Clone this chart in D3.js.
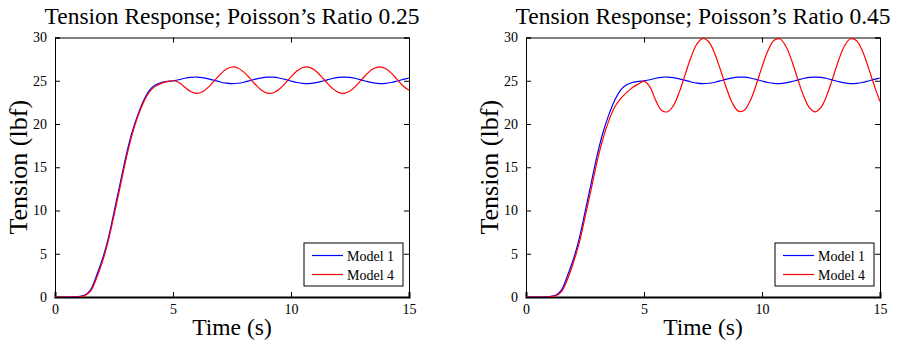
<!DOCTYPE html>
<html>
<head>
<meta charset="utf-8">
<script src="https://cdn.jsdelivr.net/npm/d3@7"></script>
<style>
  body { margin: 0; background: #fff; }
  svg text { font-family: "Liberation Serif", "Times New Roman", "DejaVu Serif", serif !important; fill: #000; }
</style>
</head>
<body>
<svg id="chart" width="897" height="343"></svg>
<script>
// time samples (s)
var time = [0, 0.25, 0.5, 0.75, 1, 1.25, 1.5, 1.75, 2, 2.25, 2.5, 2.75, 3, 3.25, 3.5, 3.75,
    4, 4.25, 4.5, 4.75, 5, 5.25, 5.5, 5.75, 6, 6.25, 6.5, 6.75, 7, 7.25, 7.5, 7.75,
    8, 8.25, 8.5, 8.75, 9, 9.25, 9.5, 9.75, 10, 10.25, 10.5, 10.75, 11, 11.25, 11.5, 11.75,
    12, 12.25, 12.5, 12.75, 13, 13.25, 13.5, 13.75, 14, 14.25, 14.5, 14.75, 15];

// Model 1 tension (lbf), same in both panels
var model1 = [0, 0, 0, 0, 0.05, 0.2, 0.8, 2.4, 4.3, 6.7, 9.8, 13.0, 16.2, 18.9, 21.0, 22.7,
    23.9, 24.5, 24.8, 24.92, 25.0, 25.12, 25.29, 25.40, 25.43, 25.36, 25.22, 25.04, 24.86, 24.73, 24.67, 24.71,
    24.83, 25.0, 25.19, 25.34, 25.42, 25.41, 25.32, 25.15, 24.97, 24.80, 24.69, 24.67, 24.75, 24.89, 25.08, 25.26,
    25.38, 25.43, 25.38, 25.26, 25.08, 24.89, 24.75, 24.67, 24.69, 24.80, 24.97, 25.15, 25.32];

// Model 4 tension (lbf), Poisson's ratio 0.25
var model4Nu025 = [0, 0, 0, 0, 0.03, 0.15, 0.65, 2.1, 4.0, 6.4, 9.4, 12.6, 15.8, 18.6, 20.8, 22.5,
    23.7, 24.35, 24.7, 24.9, 25.0, 24.8, 24.25, 23.75, 23.54, 23.73, 24.26, 24.99, 25.74, 26.33, 26.59, 26.48,
    26.0, 25.3, 24.54, 23.91, 23.57, 23.61, 24.02, 24.69, 25.45, 26.12, 26.53, 26.57, 26.23, 25.6, 24.84, 24.14,
    23.66, 23.55, 23.81, 24.4, 25.15, 25.88, 26.41, 26.6, 26.41, 25.88, 25.15, 24.4, 23.9];

// Model 4 tension (lbf), Poisson's ratio 0.45
var model4Nu045 = [0, 0, 0, 0, 0.03, 0.15, 0.6, 2.0, 3.9, 6.2, 9.2, 12.3, 15.5, 18.2, 20.3, 21.9,
    22.9, 23.6, 24.2, 24.6, 24.95, 24.3, 22.7, 21.55, 21.42, 22.14, 23.71, 25.76, 27.78, 29.28, 29.9, 29.48,
    28.13, 26.18, 24.1, 22.39, 21.49, 21.59, 22.68, 24.5, 26.6, 28.46, 29.65, 29.85, 29.04, 27.4, 25.33, 23.34,
    21.92, 21.4, 21.92, 23.34, 25.33, 27.4, 29.04, 29.85, 29.65, 28.46, 26.6, 24.5, 22.6];

var xTicks = [0, 5, 10, 15];
var yTicks = [0, 5, 10, 15, 20, 25, 30];
var seriesNames = ["Model 1", "Model 4"];
var seriesColors = ["#0000ff", "#ff0000"];

var panels = [
    { title: "Tension Response; Poisson\u2019s Ratio 0.25", left: 55, red: model4Nu025 },
    { title: "Tension Response; Poisson\u2019s Ratio 0.45", left: 526, red: model4Nu045 }
];

var plotW = 354, plotH = 259.5, plotTop = 37.5;

var svg = d3.select("#chart");

panels.forEach(function(p, idx) {
    var g = svg.append("g")
        .attr("transform", "translate(" + p.left + "," + plotTop + ")");

    var x = d3.scaleLinear().domain([0, 15]).range([0, plotW]);
    var y = d3.scaleLinear().domain([0, 30]).range([plotH, 0]);

    g.append("clipPath").attr("id", "clip" + idx)
        .append("rect").attr("x", 0).attr("y", -1).attr("width", plotW).attr("height", plotH + 1);

    // title
    g.append("text")
        .attr("x", plotW / 2)
        .attr("y", -13.5)
        .attr("text-anchor", "middle")
        .style("font-size", "23.5px")
        .text(p.title);

    // axes, MATLAB style ticks inside
    var axB = g.append("g").attr("transform", "translate(0," + plotH + ")")
        .call(d3.axisBottom(x).tickValues(xTicks).tickSize(-5).tickPadding(9).tickFormat(d3.format("d")));
    var axT = g.append("g")
        .call(d3.axisTop(x).tickValues(xTicks).tickSize(-5).tickFormat(""));
    var axL = g.append("g")
        .call(d3.axisLeft(y).tickValues(yTicks).tickSize(-5).tickPadding(8).tickFormat(d3.format("d")));
    var axR = g.append("g").attr("transform", "translate(" + plotW + ",0)")
        .call(d3.axisRight(y).tickValues(yTicks).tickSize(-5).tickFormat(""));

    [axB, axT, axL, axR].forEach(function(a) {
        a.attr("font-family", null);
        a.select(".domain").attr("stroke", "#000");
        a.selectAll(".tick line").attr("stroke", "#000");
        a.selectAll("text")
            .style("font-size", "14px")
            .attr("fill", "#000");
    });
    axB.select(".domain").attr("stroke-width", 2);
    axB.selectAll(".tick text").attr("dy", "0.55em");

    // lines
    var line = d3.line()
        .x(function(d) { return x(d[0]); })
        .y(function(d) { return y(d[1]); })
        .curve(d3.curveCatmullRom);

    var series = [model1, p.red];
    series.forEach(function(vals, i) {
        g.append("path")
            .datum(time.map(function(t, k) { return [t, vals[k]]; }))
            .attr("clip-path", "url(#clip" + idx + ")")
            .attr("fill", "none")
            .attr("stroke", seriesColors[i])
            .attr("stroke-width", 1.2)
            .attr("d", line);
    });

    // axis labels
    g.append("text")
        .attr("x", plotW / 2)
        .attr("y", plotH + 38)
        .attr("text-anchor", "middle")
        .style("font-size", "23.5px")
        .text("Time (s)");

    g.append("text")
        .attr("transform", "rotate(-90)")
        .attr("x", -plotH / 2)
        .attr("y", -28)
        .attr("text-anchor", "middle")
        .style("font-size", "26px")
        .text("Tension (lbf)");

    // legend
    var lg = g.append("g")
        .attr("transform", "translate(" + (plotW - 105) + "," + (plotH - 54) + ")");
    lg.append("rect")
        .attr("width", 99).attr("height", 43)
        .attr("fill", "#fff").attr("stroke", "#000").attr("stroke-width", 1);
    seriesNames.forEach(function(name, i) {
        lg.append("line")
            .attr("x1", 8).attr("x2", 39)
            .attr("y1", 12.5 + i * 19).attr("y2", 12.5 + i * 19)
            .attr("stroke", seriesColors[i]).attr("stroke-width", 1.2);
        lg.append("text")
            .attr("x", 43).attr("y", 17.5 + i * 19)
            .style("font-size", "14px")
            .text(name);
    });
});
</script>
</body>
</html>
